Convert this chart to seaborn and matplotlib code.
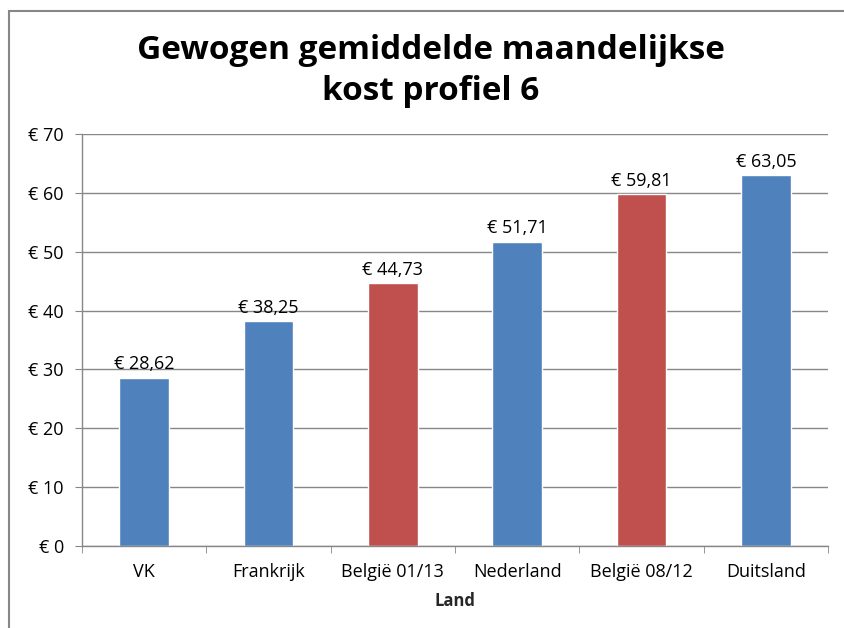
import numpy as np
import pandas as pd
import seaborn as sns
import matplotlib.pyplot as plt
from matplotlib.patches import Rectangle

# Data
landen = ["VK", "Frankrijk", "België 01/13", "Nederland", "België 08/12", "Duitsland"]
kosten = [28.62, 38.25, 44.73, 51.71, 59.81, 63.05]
kleuren = ["#4F81BD", "#4F81BD", "#C0504D", "#4F81BD", "#C0504D", "#4F81BD"]

df = pd.DataFrame({"Land": landen, "Kost": kosten})

sns.set_style("white")
plt.rcParams['font.family'] = ['Open Sans', 'DejaVu Sans']
plt.rcParams['text.color'] = "black"
plt.rcParams['xtick.labelcolor'] = "black"
plt.rcParams['ytick.labelcolor'] = "black"

fig = plt.figure(figsize=(8.44, 6.28), dpi=100)
ax = fig.add_axes([82/844, 1 - 546/628, (828 - 82)/844, (546 - 134)/628])

sns.barplot(data=df, x="Land", y="Kost", hue="Land", palette=kleuren,
            legend=False, width=0.4, saturation=1, ax=ax)

# labels boven de balken
for c in ax.containers:
    ax.bar_label(c, labels=["€ " + f"{v:.2f}".replace(".", ",") for v in c.datavalues],
                 padding=3, fontsize=13, color="black")

ax.set_ylim(0, 70)
ax.set_xlim(-0.5, len(landen) - 0.5)
ax.set_yticks(np.arange(0, 71, 10))
ax.set_yticklabels([f"€ {v}" for v in range(0, 71, 10)], fontsize=13)
ax.yaxis.grid(True, color="#878787", linewidth=1)
ax.set_axisbelow(True)

# tick marks tussen de categorieën
ax.set_xticks(np.arange(-0.5, len(landen), 1), minor=True)
ax.tick_params(axis="x", which="major", length=0, pad=12, labelsize=13)
ax.tick_params(axis="x", which="minor", length=5, color="#878787", direction="out", bottom=True)
ax.tick_params(axis="y", length=5, color="#878787", direction="out", left=True, pad=8)

for s in ["top", "right"]:
    ax.spines[s].set_visible(False)
for s in ["left", "bottom"]:
    ax.spines[s].set_color("#878787")
    ax.spines[s].set_linewidth(1)

ax.set_xlabel("Land", fontsize=12, fontweight="bold", labelpad=8)
ax.set_ylabel("")

fig.text(0.51, 1 - 71/628, "Gewogen gemiddelde maandelijkse\nkost profiel 6",
         ha="center", va="center", fontsize=24, fontweight="bold", linespacing=1.32)

# rand van de grafiek
fig.patches.append(Rectangle((9/844, -0.1), 2, 1 - 11/628 + 0.1, transform=fig.transFigure,
                             fill=False, edgecolor="#878787", linewidth=1.5))

plt.savefig("out.png", dpi=100)
